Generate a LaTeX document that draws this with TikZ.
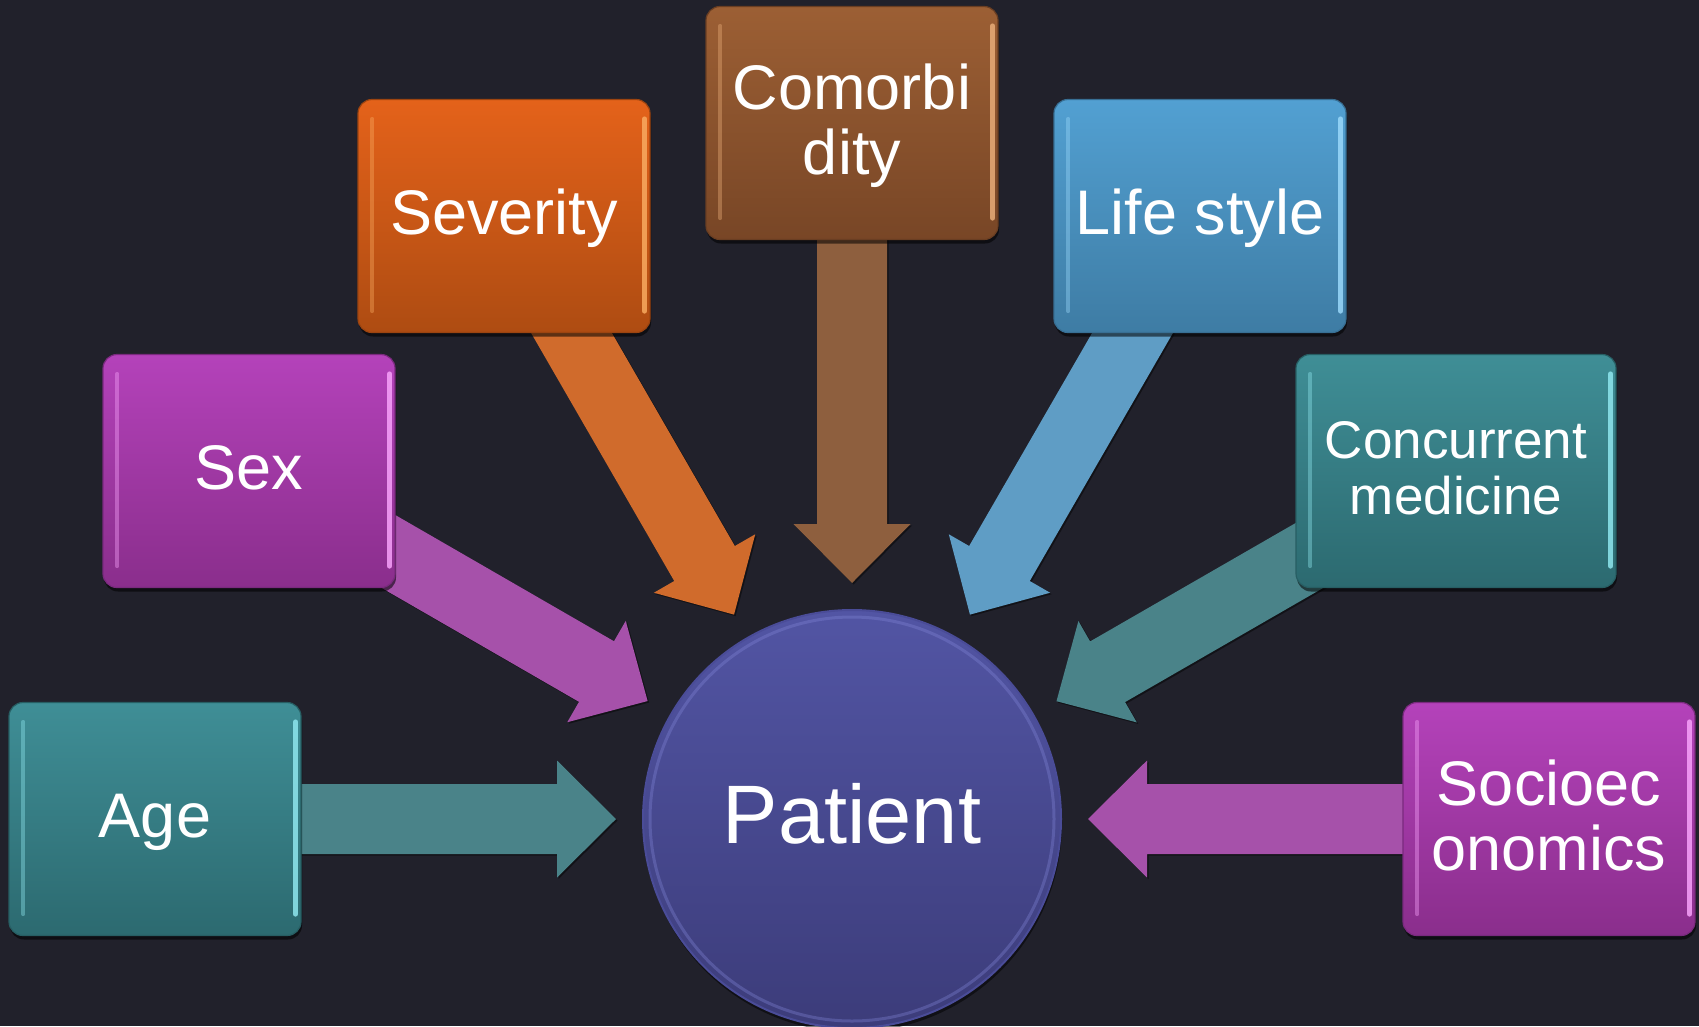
\documentclass[tikz,border=0pt]{standalone}
\usepackage{fontspec}
\setmainfont{Liberation Sans}
\usetikzlibrary{calc,shadows}
\pgfdeclarelayer{bgl}
\pgfdeclarelayer{arrl}
\pgfsetlayers{bgl,arrl,main}
\definecolor{bgc}{HTML}{21212B}
\definecolor{tealT}{HTML}{3F8E96}
\definecolor{tealB}{HTML}{2C6A70}
\definecolor{tealD}{HTML}{275E63}
\definecolor{tealL}{HTML}{8FE6EE}
\definecolor{tealA}{HTML}{4A8389}
\definecolor{magT}{HTML}{B442BA}
\definecolor{magB}{HTML}{8A2E8C}
\definecolor{magD}{HTML}{7A2A7E}
\definecolor{magL}{HTML}{F7A2FA}
\definecolor{magA}{HTML}{A651AA}
\definecolor{orT}{HTML}{E4621A}
\definecolor{orB}{HTML}{AE4C12}
\definecolor{orD}{HTML}{9C4410}
\definecolor{orL}{HTML}{F8AA60}
\definecolor{orA}{HTML}{D06B2C}
\definecolor{brT}{HTML}{9C5F34}
\definecolor{brB}{HTML}{784626}
\definecolor{brD}{HTML}{6A3E22}
\definecolor{brL}{HTML}{E8AC78}
\definecolor{brA}{HTML}{8E5F3E}
\definecolor{blT}{HTML}{52A0D2}
\definecolor{blB}{HTML}{3E7CA4}
\definecolor{blD}{HTML}{386F94}
\definecolor{blL}{HTML}{9AD8FA}
\definecolor{blA}{HTML}{5F9DC5}
\definecolor{paT}{HTML}{5255A4}
\definecolor{paB}{HTML}{3C3C7A}
\definecolor{paD}{HTML}{4A4C98}
\definecolor{paL}{HTML}{8286D8}

\newcommand\sT{\rule{0pt}{.9em}}
\newcommand\sB{\rule[-.3em]{0pt}{.3em}}

\tikzset{
  factor/.style={rectangle, rounded corners=14pt, minimum width=292pt, minimum height=233pt,
    inner sep=0pt, align=center, text=white, font=\fontsize{63}{65}\selectfont, line width=1.2pt,
    drop shadow={shadow xshift=1pt, shadow yshift=-4pt, opacity=.55, fill=black}},
  tealbox/.style={factor, top color=tealT, bottom color=tealB, draw=tealD},
  magbox/.style={factor, top color=magT, bottom color=magB, draw=magD},
  orbox/.style={factor, top color=orT, bottom color=orB, draw=orD},
  brbox/.style={factor, top color=brT, bottom color=brB, draw=brD},
  blbox/.style={factor, top color=blT, bottom color=blB, draw=blD},
  patient/.style={circle, minimum size=418pt, inner sep=0pt, top color=paT, bottom color=paB,
    draw=paD, line width=2pt, text=white, font=\fontsize{83}{86}\selectfont,
    drop shadow={shadow xshift=1pt, shadow yshift=-4pt, opacity=.5, fill=black}},
  glossline/.style={line cap=round},
  barr/.style={drop shadow={shadow xshift=1.5pt, shadow yshift=-1.5pt, opacity=.45, fill=black}}
}

\newcommand\gloss[2]{%
  \draw[glossline, #2, line width=4pt, opacity=.4] ([xshift=15pt,yshift=-20pt]#1.north west) -- ([xshift=15pt,yshift=22pt]#1.south west);
  \draw[glossline, #2, line width=5pt, opacity=.85] ([xshift=-6pt,yshift=-20pt]#1.north east) -- ([xshift=-6pt,yshift=22pt]#1.south east);
}

\newcommand\blockarr[3]{%
  \coordinate (#2) at ($(P.center)!236pt!(#1.center)$);
  \coordinate (#2b) at ($(#2)!59pt!(#1.center)$);
  \fill[#3, barr] ($(#1.center)!35pt!90:(#2)$) -- ($(#2b)!35pt!90:(#2)$) -- ($(#2b)!58.5pt!90:(#2)$)
    -- (#2) -- ($(#2b)!58.5pt!-90:(#2)$) -- ($(#2b)!35pt!-90:(#2)$) -- ($(#1.center)!35pt!-90:(#2)$) -- cycle;
}

\begin{document}
\begin{tikzpicture}[x=1pt,y=-1pt]
\begin{pgfonlayer}{bgl}
  \fill[bgc] (0,0) rectangle (1699,1026);
\end{pgfonlayer}
\useasboundingbox (0,0) rectangle (1699,1026);

\node[patient] (P) at (852,819) {\sT Patient\sB};
\draw[paL, line width=3pt, opacity=.35] (P.center) circle [radius=202pt];

\node[tealbox] (age) at (155,819) {\sT Age\sB};
\node[magbox] (sex) at (249,471) {\sT Sex\sB};
\node[orbox] (sev) at (504,216) {\sT Severity\sB};
\node[brbox] (com) at (852,123) {\sT Comorbi\\dity\sB};
\node[blbox] (life) at (1200,216) {\sT Life style\sB};
\node[tealbox, minimum width=320pt, font=\fontsize{53}{56}\selectfont] (con) at (1456,471) {\sT Concurrent\\medicine\sB};
\node[magbox] (soc) at (1549,819) {\sT Socioec\\onomics\sB};

\gloss{age}{tealL}
\gloss{sex}{magL}
\gloss{sev}{orL}
\gloss{com}{brL}
\gloss{life}{blL}
\gloss{con}{tealL}
\gloss{soc}{magL}

\begin{pgfonlayer}{arrl}
  \blockarr{age}{tage}{tealA}
  \blockarr{sex}{tsex}{magA}
  \blockarr{sev}{tsev}{orA}
  \blockarr{com}{tcom}{brA}
  \blockarr{life}{tlife}{blA}
  \blockarr{con}{tcon}{tealA}
  \blockarr{soc}{tsoc}{magA}
\end{pgfonlayer}
\end{tikzpicture}
\end{document}
